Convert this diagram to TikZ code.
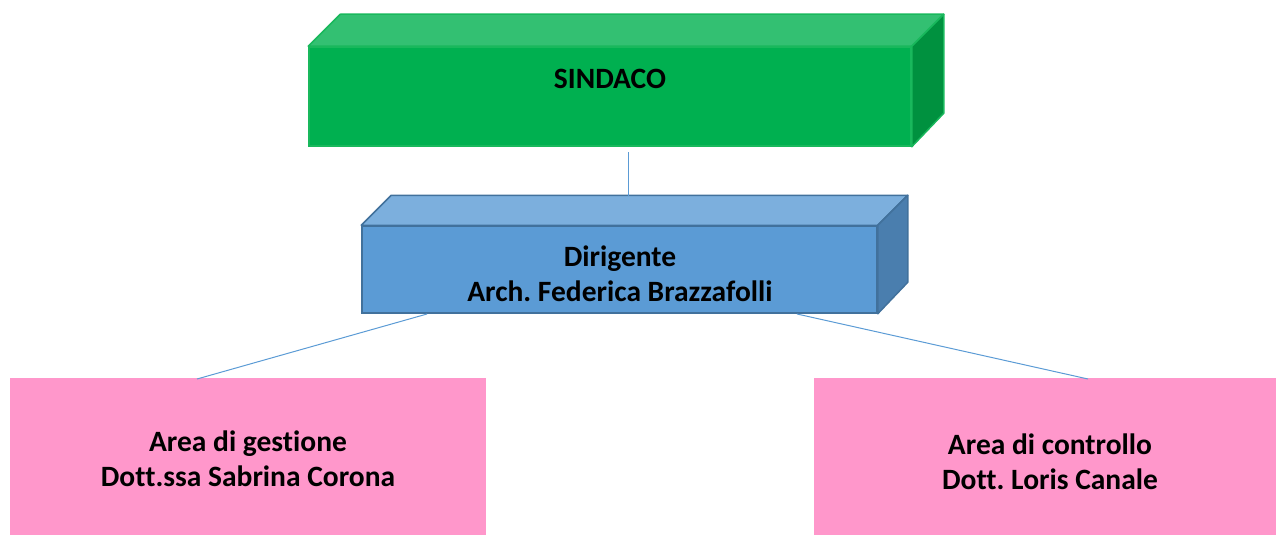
\documentclass[tikz,border=0pt]{standalone}
\usepackage{fontspec}
\setmainfont[Ligatures={NoCommon}]{Carlito}
\usetikzlibrary{calc}
\frenchspacing
\definecolor{gfront}{HTML}{00B050}
\definecolor{gtop}{HTML}{33C072}
\definecolor{gside}{HTML}{00913F}
\definecolor{gline}{HTML}{19B85C}
\definecolor{bfront}{HTML}{5B9BD5}
\definecolor{btop}{HTML}{7CAFDD}
\definecolor{bside}{HTML}{4A7EAE}
\definecolor{bline}{HTML}{41719C}
\definecolor{pinkf}{HTML}{FF97CB}
\definecolor{conn}{HTML}{5B9BD5}
\tikzset{
  lbl/.style={font=\fontsize{29.5}{35}\selectfont\bfseries, align=center, text=black},
  front/.style={inner sep=0pt, line width=1.5pt},
  pinkbox/.style={fill=pinkf, draw=none, inner sep=0pt},
  conline/.style={draw=conn, line width=1pt}
}
\begin{document}
\begin{tikzpicture}[x=1pt,y=-1pt]
\useasboundingbox (0,0) rectangle (1276,535);
% green box
\node[front, fill=gfront, draw=gline, minimum width=602pt, minimum height=99pt] (g) at (610,96.5) {};
\filldraw[fill=gtop, draw=gline, line width=1.5pt, line join=round] (g.north west) -- ++(32,-32) -- ($(g.north east)+(32,-32)$) -- (g.north east) -- cycle;
\filldraw[fill=gside, draw=gline, line width=1.5pt, line join=round] (g.north east) -- ++(32,-32) -- ++(0,99) -- (g.south east) -- cycle;
\node[lbl] (gt) at (610,79) {SINDACO};
% blue box
\node[front, fill=bfront, draw=bline, minimum width=515pt, minimum height=87pt] (b) at (619.5,269.5) {};
\filldraw[fill=btop, draw=bline, line width=1.5pt, line join=round] (b.north west) -- ++(30,-30) -- ($(b.north east)+(30,-30)$) -- (b.north east) -- cycle;
\filldraw[fill=bside, draw=bline, line width=1.5pt, line join=round] (b.north east) -- ++(30,-30) -- ++(0,87) -- (b.south east) -- cycle;
\node[lbl] (bt) at (620,273.5) {Dirigente\\Arch. Federica Brazzafolli};
% pink boxes
\node[pinkbox, minimum width=476pt, minimum height=157pt] (l) at (248,456.5) {};
\node[lbl] (lt) at (248,458.5) {Area di gestione\\Dott.ssa Sabrina Corona};
\node[pinkbox, minimum width=462pt, minimum height=157pt] (r) at (1045,456.5) {};
\node[lbl] (rt) at (1050,461.5) {Area di controllo\\Dott. Loris Canale};
% connectors
\coordinate (g1) at (628,152);
\coordinate (b1) at (628,196);
\coordinate (b2) at (427,314);
\coordinate (l1) at (197,379);
\coordinate (b3) at (797,314);
\coordinate (r1) at (1088,379);
\draw[conline] (g1) -- (b1);
\draw[conline] (b2) -- (l1);
\draw[conline] (b3) -- (r1);
\end{tikzpicture}
\end{document}
